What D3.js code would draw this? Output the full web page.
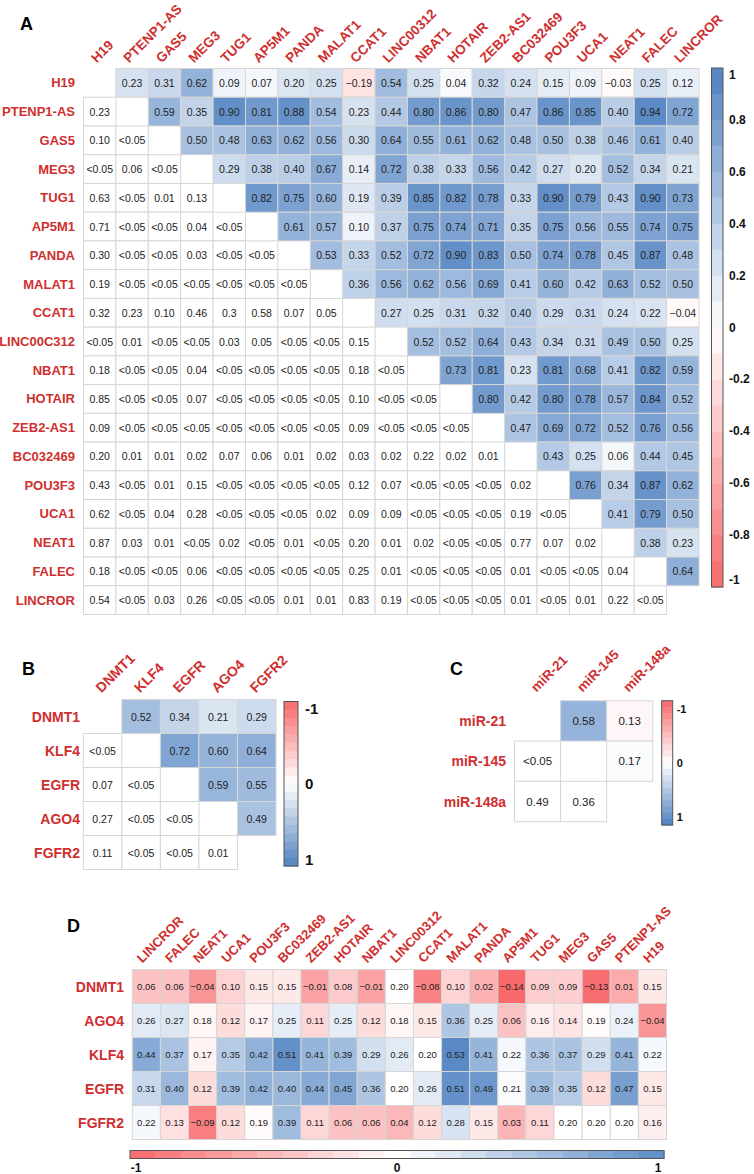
<!DOCTYPE html>
<html><head><meta charset="utf-8">
<script src="https://cdn.jsdelivr.net/npm/d3@7"></script>
<style>body{margin:0;background:#fff} svg{display:block} text{font-family:"Liberation Sans",Arial,sans-serif}</style>
</head><body><svg id="chart" width="754" height="1174"></svg>
<script>
// ---------- Panel A data ----------
const lncCols = ["H19","PTENP1-AS","GAS5","MEG3","TUG1","AP5M1","PANDA","MALAT1","CCAT1","LINC00312","NBAT1","HOTAIR","ZEB2-AS1","BC032469","POU3F3","UCA1","NEAT1","FALEC","LINCROR"];
const lncRows = ["H19","PTENP1-AS","GAS5","MEG3","TUG1","AP5M1","PANDA","MALAT1","CCAT1","LINC00C312","NBAT1","HOTAIR","ZEB2-AS1","BC032469","POU3F3","UCA1","NEAT1","FALEC","LINCROR"];
// correlation coefficients, row i, columns i+1..end
const lncUpper = [
 [0.23,0.31,0.62,0.09,0.07,0.20,0.25,-0.19,0.54,0.25,0.04,0.32,0.24,0.15,0.09,-0.03,0.25,0.12],
 [0.59,0.35,0.90,0.81,0.88,0.54,0.23,0.44,0.80,0.86,0.80,0.47,0.86,0.85,0.40,0.94,0.72],
 [0.50,0.48,0.63,0.62,0.56,0.30,0.64,0.55,0.61,0.62,0.48,0.50,0.38,0.46,0.61,0.40],
 [0.29,0.38,0.40,0.67,0.14,0.72,0.38,0.33,0.56,0.42,0.27,0.20,0.52,0.34,0.21],
 [0.82,0.75,0.60,0.19,0.39,0.85,0.82,0.78,0.33,0.90,0.79,0.43,0.90,0.73],
 [0.61,0.57,0.10,0.37,0.75,0.74,0.71,0.35,0.75,0.56,0.55,0.74,0.75],
 [0.53,0.33,0.52,0.72,0.90,0.83,0.50,0.74,0.78,0.45,0.87,0.48],
 [0.36,0.56,0.62,0.56,0.69,0.41,0.60,0.42,0.63,0.52,0.50],
 [0.27,0.25,0.31,0.32,0.40,0.29,0.31,0.24,0.22,-0.04],
 [0.52,0.52,0.64,0.43,0.34,0.31,0.49,0.50,0.25],
 [0.73,0.81,0.23,0.81,0.68,0.41,0.82,0.59],
 [0.80,0.42,0.80,0.78,0.57,0.84,0.52],
 [0.47,0.69,0.72,0.52,0.76,0.56],
 [0.43,0.25,0.06,0.44,0.45],
 [0.76,0.34,0.87,0.62],
 [0.41,0.79,0.50],
 [0.38,0.23],
 [0.64],
 []
];
// p-values, row i, columns 0..i-1
const lncLower = [
 [],
 ["0.23"],
 ["0.10","<0.05"],
 ["<0.05","0.06","<0.05"],
 ["0.63","<0.05","0.01","0.13"],
 ["0.71","<0.05","<0.05","0.04","<0.05"],
 ["0.30","<0.05","<0.05","0.03","<0.05","<0.05"],
 ["0.19","<0.05","<0.05","<0.05","<0.05","<0.05","<0.05"],
 ["0.32","0.23","0.10","0.46","0.3","0.58","0.07","0.05"],
 ["<0.05","0.01","<0.05","<0.05","0.03","0.05","<0.05","<0.05","0.15"],
 ["0.18","<0.05","<0.05","0.04","<0.05","<0.05","<0.05","<0.05","0.18","<0.05"],
 ["0.85","<0.05","<0.05","0.07","<0.05","<0.05","<0.05","<0.05","0.10","<0.05","<0.05"],
 ["0.09","<0.05","<0.05","<0.05","<0.05","<0.05","<0.05","<0.05","0.09","<0.05","<0.05","<0.05"],
 ["0.20","0.01","0.01","0.02","0.07","0.06","0.01","0.02","0.03","0.02","0.22","0.02","0.01"],
 ["0.43","<0.05","0.01","0.15","<0.05","<0.05","<0.05","<0.05","0.12","0.07","<0.05","<0.05","<0.05","0.02"],
 ["0.62","<0.05","0.04","0.28","<0.05","<0.05","<0.05","0.02","0.09","0.09","<0.05","<0.05","<0.05","0.19","<0.05"],
 ["0.87","0.03","0.01","<0.05","0.02","<0.05","0.01","<0.05","0.20","0.01","0.02","<0.05","<0.05","0.77","0.07","0.02"],
 ["0.18","<0.05","<0.05","0.06","<0.05","<0.05","<0.05","<0.05","0.25","0.01","<0.05","<0.05","<0.05","0.01","<0.05","<0.05","0.04"],
 ["0.54","<0.05","0.03","0.26","<0.05","<0.05","0.01","0.01","0.83","0.19","<0.05","<0.05","<0.05","0.01","<0.05","0.01","0.22","<0.05"]
];
const ticksA = [1,0.8,0.6,0.4,0.2,0,-0.2,-0.4,-0.6,-0.8,-1];

// ---------- Panel B data ----------
const genesB = ["DNMT1","KLF4","EGFR","AGO4","FGFR2"];
const upperB = [[0.52,0.34,0.21,0.29],[0.72,0.60,0.64],[0.59,0.55],[0.49],[]];
const lowerB = [[],["<0.05"],["0.07","<0.05"],["0.27","<0.05","<0.05"],["0.11","<0.05","<0.05","0.01"]];
const ticksB = [-1,0,1];

// ---------- Panel C data ----------
const mirC = ["miR-21","miR-145","miR-148a"];
const upperC = [[0.58,0.13],[0.17],[]];
const lowerC = [[],["<0.05"],["0.49","0.36"]];
const ticksC = [-1,0,1];

// ---------- Panel D data ----------
const colsD = ["LINCROR","FALEC","NEAT1","UCA1","POU3F3","BC032469","ZEB2-AS1","HOTAIR","NBAT1","LINC00312","CCAT1","MALAT1","PANDA","AP5M1","TUG1","MEG3","GAS5","PTENP1-AS","H19"];
const rowsD = ["DNMT1","AGO4","KLF4","EGFR","FGFR2"];
const valsDNMT1 = [0.06,0.06,-0.04,0.10,0.15,0.15,-0.01,0.08,-0.01,0.20,-0.08,0.10,0.02,-0.14,0.09,0.09,-0.13,0.01,0.15];
const valsAGO4  = [0.26,0.27,0.18,0.12,0.17,0.25,0.11,0.25,0.12,0.18,0.15,0.36,0.25,0.06,0.16,0.14,0.19,0.24,-0.04];
const valsKLF4  = [0.44,0.37,0.17,0.35,0.42,0.51,0.41,0.39,0.29,0.26,0.20,0.53,0.41,0.22,0.36,0.37,0.29,0.41,0.22];
const valsEGFR  = [0.31,0.40,0.12,0.39,0.42,0.40,0.44,0.45,0.36,0.20,0.26,0.51,0.49,0.21,0.39,0.35,0.12,0.47,0.15];
const valsFGFR2 = [0.22,0.13,-0.09,0.12,0.19,0.39,0.11,0.06,0.06,0.04,0.12,0.28,0.15,0.03,0.11,0.20,0.20,0.20,0.16];
const ticksD = [-1,0,1];

// ---------- styles ----------
const RED = "#f8696b", BLUE = "#5082c2", WHITE = "#ffffff";
const LABEL = "#cf2f2f";
const fmt = d3.format(".2f");
const svg = d3.select("#chart");

const colorFull = d3.scaleLinear().domain([-1,0,1]).range([RED,WHITE,BLUE]).interpolate(d3.interpolateRgb);

function drawTriMatrix(cfg){
  const g = svg.append("g");
  const x = d3.scaleBand().domain(d3.range(cfg.cols.length)).range(cfg.xr);
  const y = d3.scaleBand().domain(d3.range(cfg.rows.length)).range(cfg.yr);
  const cells = [];
  cfg.rows.forEach((r,i)=>{
    cfg.lower[i].forEach((s,j)=>cells.push({i,j,text:s,fill:WHITE}));
    cfg.upper[i].forEach((v,k)=>{const j=i+1+k; cells.push({i,j,text:fmt(v),fill:cfg.color(v)});});
  });
  g.selectAll("rect.c").data(cells).join("rect")
    .attr("x",d=>x(d.j)).attr("y",d=>y(d.i))
    .attr("width",x.bandwidth()).attr("height",y.bandwidth())
    .attr("fill",d=>d.fill).attr("stroke","#d6d6d6").attr("stroke-width",1);
  g.selectAll("text.v").data(cells).join("text")
    .attr("x",d=>x(d.j)+x.bandwidth()/2).attr("y",d=>y(d.i)+y.bandwidth()/2)
    .attr("text-anchor","middle").attr("dominant-baseline","central")
    .attr("font-size",cfg.cellFont).attr("fill","#222").text(d=>d.text);
  // row labels
  g.selectAll("text.r").data(cfg.rows).join("text")
    .attr("x",cfg.rowLabelX).attr("y",(d,i)=>y(i)+y.bandwidth()/2)
    .attr("text-anchor","end").attr("dominant-baseline","central")
    .attr("font-size",cfg.labelFont).attr("font-weight","bold").attr("fill",LABEL).text(d=>d);
  // column labels
  g.selectAll("text.h").data(cfg.cols).join("text")
    .attr("transform",(d,j)=>`translate(${x(j)+x.bandwidth()/2+cfg.hdx},${cfg.yr[0]+cfg.hdy}) rotate(-45)`)
    .attr("text-anchor","start")
    .attr("font-size",cfg.headFont).attr("font-weight","bold").attr("fill",LABEL).text(d=>d);
}

function drawFullMatrix(cfg){
  const g = svg.append("g");
  const x = d3.scaleBand().domain(d3.range(cfg.cols.length)).range(cfg.xr);
  const y = d3.scaleBand().domain(d3.range(cfg.rows.length)).range(cfg.yr);
  const cells = [];
  cfg.values.forEach((row,i)=>row.forEach((v,j)=>cells.push({i,j,v})));
  g.selectAll("rect").data(cells).join("rect")
    .attr("x",d=>x(d.j)).attr("y",d=>y(d.i))
    .attr("width",x.bandwidth()).attr("height",y.bandwidth())
    .attr("fill",d=>cfg.color(d.v)).attr("stroke","#d6d6d6").attr("stroke-width",1);
  g.selectAll("text.v").data(cells).join("text")
    .attr("x",d=>x(d.j)+x.bandwidth()/2).attr("y",d=>y(d.i)+y.bandwidth()/2)
    .attr("text-anchor","middle").attr("dominant-baseline","central")
    .attr("font-size",cfg.cellFont).attr("fill","#222").text(d=>fmt(d.v));
  g.selectAll("text.r").data(cfg.rows).join("text")
    .attr("x",cfg.rowLabelX).attr("y",(d,i)=>y(i)+y.bandwidth()/2)
    .attr("text-anchor","end").attr("dominant-baseline","central")
    .attr("font-size",cfg.labelFont).attr("font-weight","bold").attr("fill",LABEL).text(d=>d);
  g.selectAll("text.h").data(cfg.cols).join("text")
    .attr("transform",(d,j)=>`translate(${x(j)+x.bandwidth()/2+cfg.hdx},${cfg.yr[0]+cfg.hdy}) rotate(-45)`)
    .attr("text-anchor","start")
    .attr("font-size",cfg.headFont).attr("font-weight","bold").attr("fill",LABEL).text(d=>d);
}

function drawVBar(cfg){
  const g = svg.append("g");
  const n = 20;
  const s = d3.scaleLinear().domain(cfg.domain).range([cfg.y0,cfg.y1]);
  const steps = d3.range(n).map(k=>cfg.domain[0]+(cfg.domain[1]-cfg.domain[0])*(k+0.5)/n);
  const h = (cfg.y1-cfg.y0)/n;
  g.selectAll("rect.b").data(steps).join("rect")
    .attr("x",cfg.x).attr("y",d=>s(d)-h/2).attr("width",cfg.w).attr("height",h+0.5)
    .attr("fill",d=>cfg.color(d));
  g.append("rect").attr("x",cfg.x).attr("y",cfg.y0).attr("width",cfg.w).attr("height",cfg.y1-cfg.y0)
    .attr("fill","none").attr("stroke","#555").attr("stroke-width",1);
  g.selectAll("text").data(cfg.ticks).join("text")
    .attr("x",cfg.x+cfg.w+cfg.labelDx)
    .attr("y",d=>Math.max(cfg.y0+cfg.pad,Math.min(cfg.y1-cfg.pad,s(d))))
    .attr("dominant-baseline","central").attr("font-size",cfg.font).attr("font-weight","bold")
    .attr("fill","#111").text(d=>String(+d.toFixed(1)));
}

function drawHBar(cfg){
  const g = svg.append("g");
  const n = 21;
  const s = d3.scaleLinear().domain(cfg.domain).range([cfg.x0,cfg.x1]);
  const steps = d3.range(n).map(k=>cfg.domain[0]+(cfg.domain[1]-cfg.domain[0])*(k+0.5)/n);
  const w = (cfg.x1-cfg.x0)/n;
  g.selectAll("rect.b").data(steps).join("rect")
    .attr("x",d=>s(d)-w/2).attr("y",cfg.y).attr("width",w+0.5).attr("height",cfg.h)
    .attr("fill",d=>cfg.color(d));
  g.append("rect").attr("x",cfg.x0).attr("y",cfg.y).attr("width",cfg.x1-cfg.x0).attr("height",cfg.h)
    .attr("fill","none").attr("stroke","#555").attr("stroke-width",1);
  g.selectAll("text").data(cfg.ticks).join("text")
    .attr("x",d=>Math.max(cfg.x0+cfg.pad,Math.min(cfg.x1-cfg.pad,s(d))))
    .attr("y",cfg.y+cfg.h+cfg.labelDy)
    .attr("text-anchor","middle").attr("dominant-baseline","central")
    .attr("font-size",cfg.font).attr("font-weight","bold").attr("fill","#111").text(d=>String(d));
}

function panelLetter(t,x,y){
  svg.append("text").attr("x",x).attr("y",y).attr("font-size",18).attr("font-weight","bold").attr("fill","#000").text(t);
}

// ---------- Panel A ----------
panelLetter("A",20,30);
drawTriMatrix({cols:lncCols,rows:lncRows,upper:lncUpper,lower:lncLower,color:colorFull,
  xr:[83.5,699],yr:[68.5,614.5],cellFont:10.5,labelFont:13,headFont:13.5,rowLabelX:75,hdx:-3,hdy:-5});
drawVBar({x:711.5,w:11.5,y0:68,y1:587,domain:[1,-1],color:colorFull,ticks:ticksA,labelDx:6,pad:7,font:12});

// ---------- Panel B ----------
panelLetter("B",22,675);
drawTriMatrix({cols:genesB,rows:genesB,upper:upperB,lower:lowerB,color:colorFull,
  xr:[83.3,276],yr:[699.5,869.5],cellFont:10.5,labelFont:14,headFont:14,rowLabelX:80,hdx:-1,hdy:-6});
drawVBar({x:284,w:14,y0:701.5,y1:866,domain:[-1,1],color:colorFull,ticks:ticksB,labelDx:7,pad:7,font:15});

// ---------- Panel C ----------
panelLetter("C",450,675);
const colorC = d3.scaleLinear().domain([-0.2,0.15,0.87]).range([RED,WHITE,BLUE]).clamp(true);
drawTriMatrix({cols:mirC,rows:mirC,upper:upperC,lower:lowerC,color:colorC,
  xr:[514.5,652.7],yr:[700.7,821.7],cellFont:11.5,labelFont:14,headFont:13.5,rowLabelX:506,hdx:-1,hdy:-8});
drawVBar({x:661.7,w:11,y0:700.7,y1:825,domain:[-1,1],color:colorFull,ticks:ticksC,labelDx:4,pad:8,font:11});

// ---------- Panel D ----------
panelLetter("D",67,932);
const valuesD = [valsDNMT1,valsAGO4,valsKLF4,valsEGFR,valsFGFR2];
const allD = valuesD.flat();
const colorD = d3.scaleLinear().domain([d3.min(allD),d3.median(allD),d3.max(allD)]).range([RED,WHITE,"#5a8ac6"]);
drawFullMatrix({cols:colsD,rows:rowsD,values:valuesD,color:colorD,
  xr:[132.3,666.5],yr:[969.5,1139.5],cellFont:9.5,labelFont:14,headFont:13,rowLabelX:124,hdx:-4,hdy:-6});
drawHBar({x0:130,x1:664,y:1150.5,h:8,domain:[-1,1],color:d3.scaleLinear().domain([-1,0,1]).range([RED,WHITE,"#5a8ac6"]),
  ticks:ticksD,labelDy:9.5,pad:6,font:12});
</script></body></html>
